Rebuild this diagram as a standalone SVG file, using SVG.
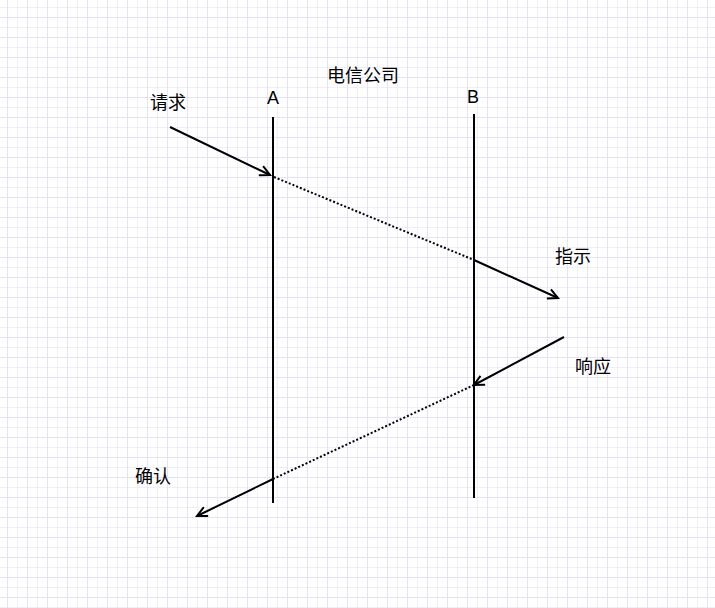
<svg xmlns="http://www.w3.org/2000/svg" width="715" height="608" viewBox="0 0 715 608">
<defs>
<pattern id="minor" width="10" height="10" patternUnits="userSpaceOnUse" x="7" y="7">
<path d="M0,0.5 H10 M0.5,0 V10" stroke="#f0eef9" stroke-width="1" fill="none"/>
</pattern>
<pattern id="major" width="20" height="20" patternUnits="userSpaceOnUse" x="7" y="17">
<path d="M0,0.5 H20 M0.5,0 V20" stroke="#e6e2f5" stroke-width="1" fill="none"/>
</pattern>
<marker id="arr" markerWidth="14" markerHeight="12" refX="11" refY="6" orient="auto" markerUnits="userSpaceOnUse">
<path d="M1,1 L11,6 L1,11" fill="none" stroke="#000" stroke-width="2"/>
</marker>
</defs>
<style>
.ln{stroke:#000;stroke-width:2;fill:none}
.dot{stroke:#000;stroke-width:2;fill:none;stroke-dasharray:2 2}
.t{font-family:"Liberation Sans","Noto Sans CJK SC",sans-serif;font-size:18px;fill:#000;text-anchor:middle}
.c{font-family:"Noto Sans CJK SC",sans-serif;font-size:18px;fill:#000;text-anchor:middle}
</style>
<rect width="715" height="608" fill="#fff"/>
<rect width="715" height="608" fill="url(#minor)"/>
<rect width="715" height="608" fill="url(#major)"/>
<g id="nodes">
<g id="title"><text class="c" x="363" y="82">电信公司</text></g>
<g id="lineA"><line class="ln" x1="273" y1="117" x2="273" y2="503"/><text class="t" x="273" y="104">A</text></g>
<g id="lineB"><line class="ln" x1="474" y1="114" x2="474" y2="498"/><text class="t" x="473" y="103">B</text></g>
<g id="l1"><text class="c" x="168" y="109">请求</text></g>
<g id="l2"><text class="c" x="573" y="263">指示</text></g>
<g id="l3"><text class="c" x="593" y="373">响应</text></g>
<g id="l4"><text class="c" x="153" y="483">确认</text></g>
</g>
<g id="connectors">
<line class="ln" x1="170" y1="127" x2="270" y2="175" marker-end="url(#arr)"/>
<line class="dot" x1="274" y1="177" x2="474" y2="260"/>
<line class="ln" x1="474" y1="260" x2="558" y2="298" marker-end="url(#arr)"/>
<line class="ln" x1="564" y1="337" x2="474" y2="385" marker-end="url(#arr)"/>
<line class="dot" x1="474" y1="385" x2="273" y2="479"/>
<line class="ln" x1="273" y1="479" x2="197" y2="516" marker-end="url(#arr)"/>
</g>
</svg>
